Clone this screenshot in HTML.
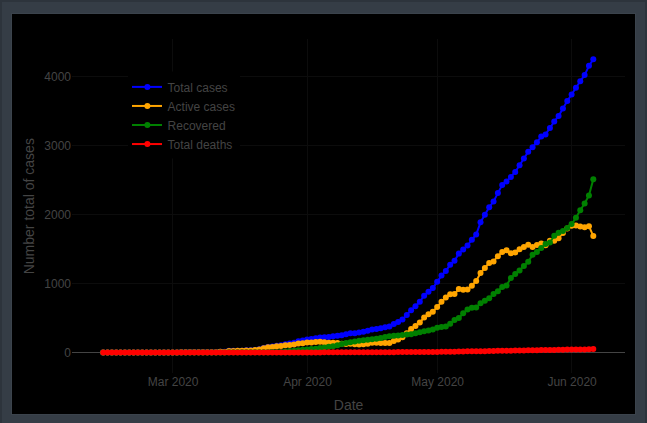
<!DOCTYPE html>
<html><head><meta charset="utf-8"><style>
html,body{margin:0;padding:0;background:#353d46;width:647px;height:423px;overflow:hidden}
#card{position:absolute;left:12px;top:14px;width:623px;height:400px;background:#000}
svg{position:absolute;left:0;top:0}
text{font-family:"Liberation Sans",sans-serif}
</style></head><body>
<div id="edgeT" style="position:absolute;left:0;top:0;width:647px;height:2px;background:#2d343c"></div>
<div id="edgeL" style="position:absolute;left:0;top:0;width:2px;height:423px;background:#2d343c"></div>
<div id="edgeR" style="position:absolute;right:0;top:0;width:2px;height:423px;background:#2d343c"></div>
<div id="frame" style="position:absolute;left:11px;top:13px;width:625px;height:402px;background:#3b434c"></div>
<div id="card"></div>
<svg width="647" height="423" viewBox="0 0 647 423">
<line x1="72" x2="625" y1="283.5" y2="283.5" stroke="#0c0c0c" stroke-width="1"/>
<line x1="72" x2="625" y1="214.5" y2="214.5" stroke="#0c0c0c" stroke-width="1"/>
<line x1="72" x2="625" y1="145.5" y2="145.5" stroke="#0c0c0c" stroke-width="1"/>
<line x1="72" x2="625" y1="76.5" y2="76.5" stroke="#0c0c0c" stroke-width="1"/>
<line x1="172.5" x2="172.5" y1="39" y2="373" stroke="#0c0c0c" stroke-width="1"/>
<line x1="307.5" x2="307.5" y1="39" y2="373" stroke="#0c0c0c" stroke-width="1"/>
<line x1="437.5" x2="437.5" y1="39" y2="373" stroke="#0c0c0c" stroke-width="1"/>
<line x1="571.5" x2="571.5" y1="39" y2="373" stroke="#0c0c0c" stroke-width="1"/>
<line x1="72" x2="625" y1="352.5" y2="352.5" stroke="#444" stroke-width="1"/>
<path d="M103.21,352.50L107.55,352.50L111.88,352.50L116.22,352.50L120.56,352.50L124.89,352.50L129.23,352.50L133.57,352.50L137.90,352.50L142.24,352.50L146.58,352.50L150.91,352.50L155.25,352.50L159.59,352.50L163.93,352.50L168.26,352.50L172.60,352.50L176.94,352.43L181.27,352.36L185.61,352.22L189.95,352.22L194.28,352.22L198.62,352.22L202.96,352.22L207.30,352.22L211.63,352.22L215.97,352.22L220.31,351.81L224.64,351.81L228.98,350.84L233.32,350.84L237.65,350.71L241.99,350.64L246.33,350.36L250.67,350.36L255.00,349.88L259.34,349.26L263.68,347.88L268.01,347.05L272.35,346.57L276.69,345.67L281.02,345.25L285.36,344.29L289.70,343.53L294.04,342.70L298.37,341.32L302.71,340.43L307.05,339.39L311.38,339.05L315.72,338.22L320.06,337.39L324.39,337.18L328.73,336.91L333.07,336.15L337.41,335.66L341.74,335.25L346.08,334.21L350.42,333.32L354.75,333.18L359.09,332.42L363.43,331.87L367.76,330.83L372.10,329.38L376.44,328.90L380.78,328.35L385.11,327.18L389.45,326.49L393.79,324.07L398.12,322.00L402.46,319.45L406.80,314.89L411.13,310.13L415.47,306.20L419.81,301.72L424.15,295.71L428.48,291.64L432.82,288.12L437.16,281.84L441.49,275.56L445.83,270.94L450.17,264.80L454.50,260.80L458.84,253.62L463.18,249.55L467.52,245.48L471.85,239.75L476.19,234.58L480.53,222.37L484.86,214.84L489.20,207.25L493.54,201.46L497.88,193.11L502.21,184.90L506.55,181.38L510.89,176.96L515.22,171.93L519.56,165.23L523.90,158.47L528.23,151.78L532.57,147.16L536.91,142.26L541.25,136.53L545.58,134.39L549.92,128.04L554.26,121.49L558.59,115.90L562.93,108.58L567.27,100.99L571.60,94.51L575.94,87.82L580.28,81.19L584.62,75.05L588.95,65.80L593.29,59.32" fill="none" stroke="#0000ff" stroke-width="2" stroke-linejoin="round"/><g fill="#0000ff"><circle cx="103.21" cy="352.50" r="3"/><circle cx="107.55" cy="352.50" r="3"/><circle cx="111.88" cy="352.50" r="3"/><circle cx="116.22" cy="352.50" r="3"/><circle cx="120.56" cy="352.50" r="3"/><circle cx="124.89" cy="352.50" r="3"/><circle cx="129.23" cy="352.50" r="3"/><circle cx="133.57" cy="352.50" r="3"/><circle cx="137.90" cy="352.50" r="3"/><circle cx="142.24" cy="352.50" r="3"/><circle cx="146.58" cy="352.50" r="3"/><circle cx="150.91" cy="352.50" r="3"/><circle cx="155.25" cy="352.50" r="3"/><circle cx="159.59" cy="352.50" r="3"/><circle cx="163.93" cy="352.50" r="3"/><circle cx="168.26" cy="352.50" r="3"/><circle cx="172.60" cy="352.50" r="3"/><circle cx="176.94" cy="352.43" r="3"/><circle cx="181.27" cy="352.36" r="3"/><circle cx="185.61" cy="352.22" r="3"/><circle cx="189.95" cy="352.22" r="3"/><circle cx="194.28" cy="352.22" r="3"/><circle cx="198.62" cy="352.22" r="3"/><circle cx="202.96" cy="352.22" r="3"/><circle cx="207.30" cy="352.22" r="3"/><circle cx="211.63" cy="352.22" r="3"/><circle cx="215.97" cy="352.22" r="3"/><circle cx="220.31" cy="351.81" r="3"/><circle cx="224.64" cy="351.81" r="3"/><circle cx="228.98" cy="350.84" r="3"/><circle cx="233.32" cy="350.84" r="3"/><circle cx="237.65" cy="350.71" r="3"/><circle cx="241.99" cy="350.64" r="3"/><circle cx="246.33" cy="350.36" r="3"/><circle cx="250.67" cy="350.36" r="3"/><circle cx="255.00" cy="349.88" r="3"/><circle cx="259.34" cy="349.26" r="3"/><circle cx="263.68" cy="347.88" r="3"/><circle cx="268.01" cy="347.05" r="3"/><circle cx="272.35" cy="346.57" r="3"/><circle cx="276.69" cy="345.67" r="3"/><circle cx="281.02" cy="345.25" r="3"/><circle cx="285.36" cy="344.29" r="3"/><circle cx="289.70" cy="343.53" r="3"/><circle cx="294.04" cy="342.70" r="3"/><circle cx="298.37" cy="341.32" r="3"/><circle cx="302.71" cy="340.43" r="3"/><circle cx="307.05" cy="339.39" r="3"/><circle cx="311.38" cy="339.05" r="3"/><circle cx="315.72" cy="338.22" r="3"/><circle cx="320.06" cy="337.39" r="3"/><circle cx="324.39" cy="337.18" r="3"/><circle cx="328.73" cy="336.91" r="3"/><circle cx="333.07" cy="336.15" r="3"/><circle cx="337.41" cy="335.66" r="3"/><circle cx="341.74" cy="335.25" r="3"/><circle cx="346.08" cy="334.21" r="3"/><circle cx="350.42" cy="333.32" r="3"/><circle cx="354.75" cy="333.18" r="3"/><circle cx="359.09" cy="332.42" r="3"/><circle cx="363.43" cy="331.87" r="3"/><circle cx="367.76" cy="330.83" r="3"/><circle cx="372.10" cy="329.38" r="3"/><circle cx="376.44" cy="328.90" r="3"/><circle cx="380.78" cy="328.35" r="3"/><circle cx="385.11" cy="327.18" r="3"/><circle cx="389.45" cy="326.49" r="3"/><circle cx="393.79" cy="324.07" r="3"/><circle cx="398.12" cy="322.00" r="3"/><circle cx="402.46" cy="319.45" r="3"/><circle cx="406.80" cy="314.89" r="3"/><circle cx="411.13" cy="310.13" r="3"/><circle cx="415.47" cy="306.20" r="3"/><circle cx="419.81" cy="301.72" r="3"/><circle cx="424.15" cy="295.71" r="3"/><circle cx="428.48" cy="291.64" r="3"/><circle cx="432.82" cy="288.12" r="3"/><circle cx="437.16" cy="281.84" r="3"/><circle cx="441.49" cy="275.56" r="3"/><circle cx="445.83" cy="270.94" r="3"/><circle cx="450.17" cy="264.80" r="3"/><circle cx="454.50" cy="260.80" r="3"/><circle cx="458.84" cy="253.62" r="3"/><circle cx="463.18" cy="249.55" r="3"/><circle cx="467.52" cy="245.48" r="3"/><circle cx="471.85" cy="239.75" r="3"/><circle cx="476.19" cy="234.58" r="3"/><circle cx="480.53" cy="222.37" r="3"/><circle cx="484.86" cy="214.84" r="3"/><circle cx="489.20" cy="207.25" r="3"/><circle cx="493.54" cy="201.46" r="3"/><circle cx="497.88" cy="193.11" r="3"/><circle cx="502.21" cy="184.90" r="3"/><circle cx="506.55" cy="181.38" r="3"/><circle cx="510.89" cy="176.96" r="3"/><circle cx="515.22" cy="171.93" r="3"/><circle cx="519.56" cy="165.23" r="3"/><circle cx="523.90" cy="158.47" r="3"/><circle cx="528.23" cy="151.78" r="3"/><circle cx="532.57" cy="147.16" r="3"/><circle cx="536.91" cy="142.26" r="3"/><circle cx="541.25" cy="136.53" r="3"/><circle cx="545.58" cy="134.39" r="3"/><circle cx="549.92" cy="128.04" r="3"/><circle cx="554.26" cy="121.49" r="3"/><circle cx="558.59" cy="115.90" r="3"/><circle cx="562.93" cy="108.58" r="3"/><circle cx="567.27" cy="100.99" r="3"/><circle cx="571.60" cy="94.51" r="3"/><circle cx="575.94" cy="87.82" r="3"/><circle cx="580.28" cy="81.19" r="3"/><circle cx="584.62" cy="75.05" r="3"/><circle cx="588.95" cy="65.80" r="3"/><circle cx="593.29" cy="59.32" r="3"/></g>
<path d="M103.21,352.50L107.55,352.50L111.88,352.50L116.22,352.50L120.56,352.50L124.89,352.50L129.23,352.50L133.57,352.50L137.90,352.50L142.24,352.50L146.58,352.50L150.91,352.50L155.25,352.50L159.59,352.50L163.93,352.50L168.26,352.50L172.60,352.50L176.94,352.43L181.27,352.36L185.61,352.22L189.95,352.22L194.28,352.22L198.62,352.22L202.96,352.22L207.30,352.22L211.63,352.22L215.97,352.22L220.31,351.81L224.64,351.88L228.98,350.98L233.32,350.98L237.65,350.84L241.99,350.77L246.33,350.50L250.67,350.50L255.00,350.08L259.34,349.49L263.68,348.13L268.01,347.32L272.35,346.98L276.69,346.15L281.02,345.88L285.36,345.19L289.70,344.91L294.04,344.50L298.37,343.53L302.71,343.25L307.05,342.56L311.38,342.56L315.72,342.08L320.06,341.87L324.39,342.29L328.73,342.70L333.07,342.63L337.41,343.05L341.74,343.81L346.08,343.88L350.42,343.81L354.75,344.36L359.09,344.43L363.43,344.15L367.76,343.81L372.10,342.84L376.44,342.77L380.78,343.05L385.11,342.91L389.45,343.12L393.79,341.12L398.12,339.48L402.46,337.35L406.80,333.26L411.13,328.90L415.47,326.06L419.81,322.53L424.15,317.48L428.48,314.36L432.82,311.79L437.16,307.10L441.49,301.65L445.83,297.58L450.17,294.26L454.50,294.06L458.84,289.02L463.18,289.71L467.52,289.57L471.85,285.64L476.19,280.95L480.53,273.01L484.86,267.91L489.20,262.94L493.54,261.49L497.88,256.18L502.21,252.04L506.55,250.17L510.89,253.28L515.22,252.38L519.56,249.28L523.90,247.00L528.23,244.65L532.57,247.07L536.91,245.00L541.25,243.48L545.58,245.34L549.92,240.65L554.26,240.79L558.59,238.37L562.93,232.92L567.27,228.51L571.60,225.82L575.94,225.47L580.28,226.51L584.62,227.20L588.95,226.16L593.29,236.03" fill="none" stroke="#ffa500" stroke-width="2" stroke-linejoin="round"/><g fill="#ffa500"><circle cx="103.21" cy="352.50" r="3"/><circle cx="107.55" cy="352.50" r="3"/><circle cx="111.88" cy="352.50" r="3"/><circle cx="116.22" cy="352.50" r="3"/><circle cx="120.56" cy="352.50" r="3"/><circle cx="124.89" cy="352.50" r="3"/><circle cx="129.23" cy="352.50" r="3"/><circle cx="133.57" cy="352.50" r="3"/><circle cx="137.90" cy="352.50" r="3"/><circle cx="142.24" cy="352.50" r="3"/><circle cx="146.58" cy="352.50" r="3"/><circle cx="150.91" cy="352.50" r="3"/><circle cx="155.25" cy="352.50" r="3"/><circle cx="159.59" cy="352.50" r="3"/><circle cx="163.93" cy="352.50" r="3"/><circle cx="168.26" cy="352.50" r="3"/><circle cx="172.60" cy="352.50" r="3"/><circle cx="176.94" cy="352.43" r="3"/><circle cx="181.27" cy="352.36" r="3"/><circle cx="185.61" cy="352.22" r="3"/><circle cx="189.95" cy="352.22" r="3"/><circle cx="194.28" cy="352.22" r="3"/><circle cx="198.62" cy="352.22" r="3"/><circle cx="202.96" cy="352.22" r="3"/><circle cx="207.30" cy="352.22" r="3"/><circle cx="211.63" cy="352.22" r="3"/><circle cx="215.97" cy="352.22" r="3"/><circle cx="220.31" cy="351.81" r="3"/><circle cx="224.64" cy="351.88" r="3"/><circle cx="228.98" cy="350.98" r="3"/><circle cx="233.32" cy="350.98" r="3"/><circle cx="237.65" cy="350.84" r="3"/><circle cx="241.99" cy="350.77" r="3"/><circle cx="246.33" cy="350.50" r="3"/><circle cx="250.67" cy="350.50" r="3"/><circle cx="255.00" cy="350.08" r="3"/><circle cx="259.34" cy="349.49" r="3"/><circle cx="263.68" cy="348.13" r="3"/><circle cx="268.01" cy="347.32" r="3"/><circle cx="272.35" cy="346.98" r="3"/><circle cx="276.69" cy="346.15" r="3"/><circle cx="281.02" cy="345.88" r="3"/><circle cx="285.36" cy="345.19" r="3"/><circle cx="289.70" cy="344.91" r="3"/><circle cx="294.04" cy="344.50" r="3"/><circle cx="298.37" cy="343.53" r="3"/><circle cx="302.71" cy="343.25" r="3"/><circle cx="307.05" cy="342.56" r="3"/><circle cx="311.38" cy="342.56" r="3"/><circle cx="315.72" cy="342.08" r="3"/><circle cx="320.06" cy="341.87" r="3"/><circle cx="324.39" cy="342.29" r="3"/><circle cx="328.73" cy="342.70" r="3"/><circle cx="333.07" cy="342.63" r="3"/><circle cx="337.41" cy="343.05" r="3"/><circle cx="341.74" cy="343.81" r="3"/><circle cx="346.08" cy="343.88" r="3"/><circle cx="350.42" cy="343.81" r="3"/><circle cx="354.75" cy="344.36" r="3"/><circle cx="359.09" cy="344.43" r="3"/><circle cx="363.43" cy="344.15" r="3"/><circle cx="367.76" cy="343.81" r="3"/><circle cx="372.10" cy="342.84" r="3"/><circle cx="376.44" cy="342.77" r="3"/><circle cx="380.78" cy="343.05" r="3"/><circle cx="385.11" cy="342.91" r="3"/><circle cx="389.45" cy="343.12" r="3"/><circle cx="393.79" cy="341.12" r="3"/><circle cx="398.12" cy="339.48" r="3"/><circle cx="402.46" cy="337.35" r="3"/><circle cx="406.80" cy="333.26" r="3"/><circle cx="411.13" cy="328.90" r="3"/><circle cx="415.47" cy="326.06" r="3"/><circle cx="419.81" cy="322.53" r="3"/><circle cx="424.15" cy="317.48" r="3"/><circle cx="428.48" cy="314.36" r="3"/><circle cx="432.82" cy="311.79" r="3"/><circle cx="437.16" cy="307.10" r="3"/><circle cx="441.49" cy="301.65" r="3"/><circle cx="445.83" cy="297.58" r="3"/><circle cx="450.17" cy="294.26" r="3"/><circle cx="454.50" cy="294.06" r="3"/><circle cx="458.84" cy="289.02" r="3"/><circle cx="463.18" cy="289.71" r="3"/><circle cx="467.52" cy="289.57" r="3"/><circle cx="471.85" cy="285.64" r="3"/><circle cx="476.19" cy="280.95" r="3"/><circle cx="480.53" cy="273.01" r="3"/><circle cx="484.86" cy="267.91" r="3"/><circle cx="489.20" cy="262.94" r="3"/><circle cx="493.54" cy="261.49" r="3"/><circle cx="497.88" cy="256.18" r="3"/><circle cx="502.21" cy="252.04" r="3"/><circle cx="506.55" cy="250.17" r="3"/><circle cx="510.89" cy="253.28" r="3"/><circle cx="515.22" cy="252.38" r="3"/><circle cx="519.56" cy="249.28" r="3"/><circle cx="523.90" cy="247.00" r="3"/><circle cx="528.23" cy="244.65" r="3"/><circle cx="532.57" cy="247.07" r="3"/><circle cx="536.91" cy="245.00" r="3"/><circle cx="541.25" cy="243.48" r="3"/><circle cx="545.58" cy="245.34" r="3"/><circle cx="549.92" cy="240.65" r="3"/><circle cx="554.26" cy="240.79" r="3"/><circle cx="558.59" cy="238.37" r="3"/><circle cx="562.93" cy="232.92" r="3"/><circle cx="567.27" cy="228.51" r="3"/><circle cx="571.60" cy="225.82" r="3"/><circle cx="575.94" cy="225.47" r="3"/><circle cx="580.28" cy="226.51" r="3"/><circle cx="584.62" cy="227.20" r="3"/><circle cx="588.95" cy="226.16" r="3"/><circle cx="593.29" cy="236.03" r="3"/></g>
<path d="M103.21,352.50L107.55,352.50L111.88,352.50L116.22,352.50L120.56,352.50L124.89,352.50L129.23,352.50L133.57,352.50L137.90,352.50L142.24,352.50L146.58,352.50L150.91,352.50L155.25,352.50L159.59,352.50L163.93,352.50L168.26,352.50L172.60,352.50L176.94,352.50L181.27,352.50L185.61,352.50L189.95,352.50L194.28,352.50L198.62,352.50L202.96,352.50L207.30,352.50L211.63,352.50L215.97,352.50L220.31,352.50L224.64,352.43L228.98,352.36L233.32,352.36L237.65,352.36L241.99,352.36L246.33,352.36L250.67,352.36L255.00,352.29L259.34,352.27L263.68,352.25L268.01,352.22L272.35,352.09L276.69,352.02L281.02,351.88L285.36,351.60L289.70,351.12L294.04,350.71L298.37,350.29L302.71,349.74L307.05,349.39L311.38,349.05L315.72,348.70L320.06,348.08L324.39,347.53L328.73,346.84L333.07,346.15L337.41,345.25L341.74,344.08L346.08,342.98L350.42,342.15L354.75,341.46L359.09,340.63L363.43,340.36L367.76,339.74L372.10,339.25L376.44,338.84L380.78,338.01L385.11,336.98L389.45,336.22L393.79,335.82L398.12,335.42L402.46,335.02L406.80,334.62L411.13,334.21L415.47,333.26L419.81,332.31L424.15,331.36L428.48,330.41L432.82,329.45L437.16,327.87L441.49,327.11L445.83,326.56L450.17,323.80L454.50,320.00L458.84,318.00L463.18,313.24L467.52,309.58L471.85,307.86L476.19,307.44L480.53,303.17L484.86,300.75L489.20,298.27L493.54,294.06L497.88,291.16L502.21,287.09L506.55,285.43L510.89,277.98L515.22,273.98L519.56,270.53L523.90,266.04L528.23,261.76L532.57,254.87L536.91,252.10L541.25,247.96L545.58,244.03L549.92,242.44L554.26,235.82L558.59,232.72L562.93,230.92L567.27,227.89L571.60,224.09L575.94,217.81L580.28,210.29L584.62,203.46L588.95,195.39L593.29,179.17" fill="none" stroke="#008000" stroke-width="2" stroke-linejoin="round"/><g fill="#008000"><circle cx="103.21" cy="352.50" r="3"/><circle cx="107.55" cy="352.50" r="3"/><circle cx="111.88" cy="352.50" r="3"/><circle cx="116.22" cy="352.50" r="3"/><circle cx="120.56" cy="352.50" r="3"/><circle cx="124.89" cy="352.50" r="3"/><circle cx="129.23" cy="352.50" r="3"/><circle cx="133.57" cy="352.50" r="3"/><circle cx="137.90" cy="352.50" r="3"/><circle cx="142.24" cy="352.50" r="3"/><circle cx="146.58" cy="352.50" r="3"/><circle cx="150.91" cy="352.50" r="3"/><circle cx="155.25" cy="352.50" r="3"/><circle cx="159.59" cy="352.50" r="3"/><circle cx="163.93" cy="352.50" r="3"/><circle cx="168.26" cy="352.50" r="3"/><circle cx="172.60" cy="352.50" r="3"/><circle cx="176.94" cy="352.50" r="3"/><circle cx="181.27" cy="352.50" r="3"/><circle cx="185.61" cy="352.50" r="3"/><circle cx="189.95" cy="352.50" r="3"/><circle cx="194.28" cy="352.50" r="3"/><circle cx="198.62" cy="352.50" r="3"/><circle cx="202.96" cy="352.50" r="3"/><circle cx="207.30" cy="352.50" r="3"/><circle cx="211.63" cy="352.50" r="3"/><circle cx="215.97" cy="352.50" r="3"/><circle cx="220.31" cy="352.50" r="3"/><circle cx="224.64" cy="352.43" r="3"/><circle cx="228.98" cy="352.36" r="3"/><circle cx="233.32" cy="352.36" r="3"/><circle cx="237.65" cy="352.36" r="3"/><circle cx="241.99" cy="352.36" r="3"/><circle cx="246.33" cy="352.36" r="3"/><circle cx="250.67" cy="352.36" r="3"/><circle cx="255.00" cy="352.29" r="3"/><circle cx="259.34" cy="352.27" r="3"/><circle cx="263.68" cy="352.25" r="3"/><circle cx="268.01" cy="352.22" r="3"/><circle cx="272.35" cy="352.09" r="3"/><circle cx="276.69" cy="352.02" r="3"/><circle cx="281.02" cy="351.88" r="3"/><circle cx="285.36" cy="351.60" r="3"/><circle cx="289.70" cy="351.12" r="3"/><circle cx="294.04" cy="350.71" r="3"/><circle cx="298.37" cy="350.29" r="3"/><circle cx="302.71" cy="349.74" r="3"/><circle cx="307.05" cy="349.39" r="3"/><circle cx="311.38" cy="349.05" r="3"/><circle cx="315.72" cy="348.70" r="3"/><circle cx="320.06" cy="348.08" r="3"/><circle cx="324.39" cy="347.53" r="3"/><circle cx="328.73" cy="346.84" r="3"/><circle cx="333.07" cy="346.15" r="3"/><circle cx="337.41" cy="345.25" r="3"/><circle cx="341.74" cy="344.08" r="3"/><circle cx="346.08" cy="342.98" r="3"/><circle cx="350.42" cy="342.15" r="3"/><circle cx="354.75" cy="341.46" r="3"/><circle cx="359.09" cy="340.63" r="3"/><circle cx="363.43" cy="340.36" r="3"/><circle cx="367.76" cy="339.74" r="3"/><circle cx="372.10" cy="339.25" r="3"/><circle cx="376.44" cy="338.84" r="3"/><circle cx="380.78" cy="338.01" r="3"/><circle cx="385.11" cy="336.98" r="3"/><circle cx="389.45" cy="336.22" r="3"/><circle cx="393.79" cy="335.82" r="3"/><circle cx="398.12" cy="335.42" r="3"/><circle cx="402.46" cy="335.02" r="3"/><circle cx="406.80" cy="334.62" r="3"/><circle cx="411.13" cy="334.21" r="3"/><circle cx="415.47" cy="333.26" r="3"/><circle cx="419.81" cy="332.31" r="3"/><circle cx="424.15" cy="331.36" r="3"/><circle cx="428.48" cy="330.41" r="3"/><circle cx="432.82" cy="329.45" r="3"/><circle cx="437.16" cy="327.87" r="3"/><circle cx="441.49" cy="327.11" r="3"/><circle cx="445.83" cy="326.56" r="3"/><circle cx="450.17" cy="323.80" r="3"/><circle cx="454.50" cy="320.00" r="3"/><circle cx="458.84" cy="318.00" r="3"/><circle cx="463.18" cy="313.24" r="3"/><circle cx="467.52" cy="309.58" r="3"/><circle cx="471.85" cy="307.86" r="3"/><circle cx="476.19" cy="307.44" r="3"/><circle cx="480.53" cy="303.17" r="3"/><circle cx="484.86" cy="300.75" r="3"/><circle cx="489.20" cy="298.27" r="3"/><circle cx="493.54" cy="294.06" r="3"/><circle cx="497.88" cy="291.16" r="3"/><circle cx="502.21" cy="287.09" r="3"/><circle cx="506.55" cy="285.43" r="3"/><circle cx="510.89" cy="277.98" r="3"/><circle cx="515.22" cy="273.98" r="3"/><circle cx="519.56" cy="270.53" r="3"/><circle cx="523.90" cy="266.04" r="3"/><circle cx="528.23" cy="261.76" r="3"/><circle cx="532.57" cy="254.87" r="3"/><circle cx="536.91" cy="252.10" r="3"/><circle cx="541.25" cy="247.96" r="3"/><circle cx="545.58" cy="244.03" r="3"/><circle cx="549.92" cy="242.44" r="3"/><circle cx="554.26" cy="235.82" r="3"/><circle cx="558.59" cy="232.72" r="3"/><circle cx="562.93" cy="230.92" r="3"/><circle cx="567.27" cy="227.89" r="3"/><circle cx="571.60" cy="224.09" r="3"/><circle cx="575.94" cy="217.81" r="3"/><circle cx="580.28" cy="210.29" r="3"/><circle cx="584.62" cy="203.46" r="3"/><circle cx="588.95" cy="195.39" r="3"/><circle cx="593.29" cy="179.17" r="3"/></g>
<path d="M103.21,352.50L107.55,352.50L111.88,352.50L116.22,352.50L120.56,352.50L124.89,352.50L129.23,352.50L133.57,352.50L137.90,352.50L142.24,352.50L146.58,352.50L150.91,352.50L155.25,352.50L159.59,352.50L163.93,352.50L168.26,352.50L172.60,352.50L176.94,352.50L181.27,352.50L185.61,352.50L189.95,352.50L194.28,352.50L198.62,352.50L202.96,352.50L207.30,352.50L211.63,352.50L215.97,352.50L220.31,352.50L224.64,352.50L228.98,352.50L233.32,352.50L237.65,352.50L241.99,352.50L246.33,352.50L250.67,352.50L255.00,352.50L259.34,352.50L263.68,352.50L268.01,352.50L272.35,352.50L276.69,352.50L281.02,352.50L285.36,352.50L289.70,352.50L294.04,352.50L298.37,352.50L302.71,352.43L307.05,352.43L311.38,352.43L315.72,352.43L320.06,352.43L324.39,352.36L328.73,352.36L333.07,352.36L337.41,352.36L341.74,352.36L346.08,352.36L350.42,352.36L354.75,352.36L359.09,352.36L363.43,352.36L367.76,352.29L372.10,352.29L376.44,352.29L380.78,352.29L385.11,352.29L389.45,352.15L393.79,352.13L398.12,352.11L402.46,352.09L406.80,352.02L411.13,352.02L415.47,351.88L419.81,351.88L424.15,351.88L428.48,351.88L432.82,351.88L437.16,351.88L441.49,351.81L445.83,351.81L450.17,351.74L454.50,351.74L458.84,351.60L463.18,351.60L467.52,351.33L471.85,351.26L476.19,351.19L480.53,351.19L484.86,351.19L489.20,351.05L493.54,350.91L497.88,350.77L502.21,350.77L506.55,350.77L510.89,350.71L515.22,350.57L519.56,350.43L523.90,350.43L528.23,350.36L532.57,350.22L536.91,350.15L541.25,350.08L545.58,350.02L549.92,349.95L554.26,349.88L558.59,349.81L562.93,349.74L567.27,349.60L571.60,349.60L575.94,349.53L580.28,349.39L584.62,349.39L588.95,349.26L593.29,349.12" fill="none" stroke="#ff0000" stroke-width="2" stroke-linejoin="round"/><g fill="#ff0000"><circle cx="103.21" cy="352.50" r="3"/><circle cx="107.55" cy="352.50" r="3"/><circle cx="111.88" cy="352.50" r="3"/><circle cx="116.22" cy="352.50" r="3"/><circle cx="120.56" cy="352.50" r="3"/><circle cx="124.89" cy="352.50" r="3"/><circle cx="129.23" cy="352.50" r="3"/><circle cx="133.57" cy="352.50" r="3"/><circle cx="137.90" cy="352.50" r="3"/><circle cx="142.24" cy="352.50" r="3"/><circle cx="146.58" cy="352.50" r="3"/><circle cx="150.91" cy="352.50" r="3"/><circle cx="155.25" cy="352.50" r="3"/><circle cx="159.59" cy="352.50" r="3"/><circle cx="163.93" cy="352.50" r="3"/><circle cx="168.26" cy="352.50" r="3"/><circle cx="172.60" cy="352.50" r="3"/><circle cx="176.94" cy="352.50" r="3"/><circle cx="181.27" cy="352.50" r="3"/><circle cx="185.61" cy="352.50" r="3"/><circle cx="189.95" cy="352.50" r="3"/><circle cx="194.28" cy="352.50" r="3"/><circle cx="198.62" cy="352.50" r="3"/><circle cx="202.96" cy="352.50" r="3"/><circle cx="207.30" cy="352.50" r="3"/><circle cx="211.63" cy="352.50" r="3"/><circle cx="215.97" cy="352.50" r="3"/><circle cx="220.31" cy="352.50" r="3"/><circle cx="224.64" cy="352.50" r="3"/><circle cx="228.98" cy="352.50" r="3"/><circle cx="233.32" cy="352.50" r="3"/><circle cx="237.65" cy="352.50" r="3"/><circle cx="241.99" cy="352.50" r="3"/><circle cx="246.33" cy="352.50" r="3"/><circle cx="250.67" cy="352.50" r="3"/><circle cx="255.00" cy="352.50" r="3"/><circle cx="259.34" cy="352.50" r="3"/><circle cx="263.68" cy="352.50" r="3"/><circle cx="268.01" cy="352.50" r="3"/><circle cx="272.35" cy="352.50" r="3"/><circle cx="276.69" cy="352.50" r="3"/><circle cx="281.02" cy="352.50" r="3"/><circle cx="285.36" cy="352.50" r="3"/><circle cx="289.70" cy="352.50" r="3"/><circle cx="294.04" cy="352.50" r="3"/><circle cx="298.37" cy="352.50" r="3"/><circle cx="302.71" cy="352.43" r="3"/><circle cx="307.05" cy="352.43" r="3"/><circle cx="311.38" cy="352.43" r="3"/><circle cx="315.72" cy="352.43" r="3"/><circle cx="320.06" cy="352.43" r="3"/><circle cx="324.39" cy="352.36" r="3"/><circle cx="328.73" cy="352.36" r="3"/><circle cx="333.07" cy="352.36" r="3"/><circle cx="337.41" cy="352.36" r="3"/><circle cx="341.74" cy="352.36" r="3"/><circle cx="346.08" cy="352.36" r="3"/><circle cx="350.42" cy="352.36" r="3"/><circle cx="354.75" cy="352.36" r="3"/><circle cx="359.09" cy="352.36" r="3"/><circle cx="363.43" cy="352.36" r="3"/><circle cx="367.76" cy="352.29" r="3"/><circle cx="372.10" cy="352.29" r="3"/><circle cx="376.44" cy="352.29" r="3"/><circle cx="380.78" cy="352.29" r="3"/><circle cx="385.11" cy="352.29" r="3"/><circle cx="389.45" cy="352.15" r="3"/><circle cx="393.79" cy="352.13" r="3"/><circle cx="398.12" cy="352.11" r="3"/><circle cx="402.46" cy="352.09" r="3"/><circle cx="406.80" cy="352.02" r="3"/><circle cx="411.13" cy="352.02" r="3"/><circle cx="415.47" cy="351.88" r="3"/><circle cx="419.81" cy="351.88" r="3"/><circle cx="424.15" cy="351.88" r="3"/><circle cx="428.48" cy="351.88" r="3"/><circle cx="432.82" cy="351.88" r="3"/><circle cx="437.16" cy="351.88" r="3"/><circle cx="441.49" cy="351.81" r="3"/><circle cx="445.83" cy="351.81" r="3"/><circle cx="450.17" cy="351.74" r="3"/><circle cx="454.50" cy="351.74" r="3"/><circle cx="458.84" cy="351.60" r="3"/><circle cx="463.18" cy="351.60" r="3"/><circle cx="467.52" cy="351.33" r="3"/><circle cx="471.85" cy="351.26" r="3"/><circle cx="476.19" cy="351.19" r="3"/><circle cx="480.53" cy="351.19" r="3"/><circle cx="484.86" cy="351.19" r="3"/><circle cx="489.20" cy="351.05" r="3"/><circle cx="493.54" cy="350.91" r="3"/><circle cx="497.88" cy="350.77" r="3"/><circle cx="502.21" cy="350.77" r="3"/><circle cx="506.55" cy="350.77" r="3"/><circle cx="510.89" cy="350.71" r="3"/><circle cx="515.22" cy="350.57" r="3"/><circle cx="519.56" cy="350.43" r="3"/><circle cx="523.90" cy="350.43" r="3"/><circle cx="528.23" cy="350.36" r="3"/><circle cx="532.57" cy="350.22" r="3"/><circle cx="536.91" cy="350.15" r="3"/><circle cx="541.25" cy="350.08" r="3"/><circle cx="545.58" cy="350.02" r="3"/><circle cx="549.92" cy="349.95" r="3"/><circle cx="554.26" cy="349.88" r="3"/><circle cx="558.59" cy="349.81" r="3"/><circle cx="562.93" cy="349.74" r="3"/><circle cx="567.27" cy="349.60" r="3"/><circle cx="571.60" cy="349.60" r="3"/><circle cx="575.94" cy="349.53" r="3"/><circle cx="580.28" cy="349.39" r="3"/><circle cx="584.62" cy="349.39" r="3"/><circle cx="588.95" cy="349.26" r="3"/><circle cx="593.29" cy="349.12" r="3"/></g>
<text x="71" y="356.7" text-anchor="end" font-size="12" fill="#444">0</text>
<text x="71" y="287.7" text-anchor="end" font-size="12" fill="#444">1000</text>
<text x="71" y="218.7" text-anchor="end" font-size="12" fill="#444">2000</text>
<text x="71" y="149.7" text-anchor="end" font-size="12" fill="#444">3000</text>
<text x="71" y="80.7" text-anchor="end" font-size="12" fill="#444">4000</text>
<text x="173.1" y="385.5" text-anchor="middle" font-size="12" fill="#444">Mar 2020</text>
<text x="307.5" y="385.5" text-anchor="middle" font-size="12" fill="#444">Apr 2020</text>
<text x="437.7" y="385.5" text-anchor="middle" font-size="12" fill="#444">May 2020</text>
<text x="572.1" y="385.5" text-anchor="middle" font-size="12" fill="#444">Jun 2020</text>
<text x="348.6" y="410.0" text-anchor="middle" font-size="14" fill="#444">Date</text>
<text transform="translate(33.6,206.2) rotate(-90)" x="0" y="0" text-anchor="middle" font-size="14" fill="#444">Number total of cases</text>
<rect x="128" y="71.5" width="112" height="87" fill="#000"/>
<path d="M132,86.90h30" stroke="#0000ff" stroke-width="2"/>
<circle cx="147.4" cy="86.90" r="3" fill="#0000ff"/>
<text x="167.6" y="91.90" font-size="12" fill="#444">Total cases</text>
<path d="M132,105.95h30" stroke="#ffa500" stroke-width="2"/>
<circle cx="147.4" cy="105.95" r="3" fill="#ffa500"/>
<text x="167.6" y="110.95" font-size="12" fill="#444">Active cases</text>
<path d="M132,125.00h30" stroke="#008000" stroke-width="2"/>
<circle cx="147.4" cy="125.00" r="3" fill="#008000"/>
<text x="167.6" y="130.00" font-size="12" fill="#444">Recovered</text>
<path d="M132,144.05h30" stroke="#ff0000" stroke-width="2"/>
<circle cx="147.4" cy="144.05" r="3" fill="#ff0000"/>
<text x="167.6" y="149.05" font-size="12" fill="#444">Total deaths</text>
</svg>
</body></html>
